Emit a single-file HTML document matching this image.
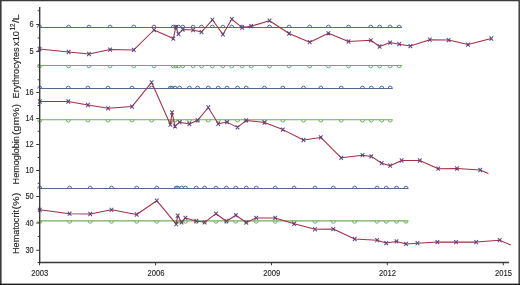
<!DOCTYPE html>
<html><head><meta charset="utf-8"><style>
html,body{margin:0;padding:0;background:#fff;}
body{width:520px;height:285px;overflow:hidden;position:relative;font-family:"Liberation Sans",sans-serif;}
svg{position:absolute;left:0;top:0;display:block;will-change:transform;filter:blur(0.25px);}
</style></head><body>
<svg width="520" height="285" viewBox="0 0 520 285">
<rect width="520" height="285" fill="#fff"/>
<g stroke="#506a95" stroke-width="1.05" fill="none">
<line x1="39.7" y1="27.5" x2="402" y2="27.5" />
<path d="M37.45 27.6A2.05 2.45 0 0 1 41.55 27.6" stroke-width="1.0"/>
<path d="M66.55 27.6A2.05 2.45 0 0 1 70.65 27.6" stroke-width="1.0"/>
<path d="M86.95 27.6A2.05 2.45 0 0 1 91.05 27.6" stroke-width="1.0"/>
<path d="M108.05 27.6A2.05 2.45 0 0 1 112.15 27.6" stroke-width="1.0"/>
<path d="M131.75 27.6A2.05 2.45 0 0 1 135.85 27.6" stroke-width="1.0"/>
<path d="M151.95 27.6A2.05 2.45 0 0 1 156.05 27.6" stroke-width="1.0"/>
<path d="M171.25 27.6A2.05 2.45 0 0 1 175.35 27.6" stroke-width="1.0"/>
<path d="M173.75 27.6A2.05 2.45 0 0 1 177.85 27.6" stroke-width="1.0"/>
<path d="M176.45 27.6A2.05 2.45 0 0 1 180.55 27.6" stroke-width="1.0"/>
<path d="M180.65 27.6A2.05 2.45 0 0 1 184.75 27.6" stroke-width="1.0"/>
<path d="M191.05 27.6A2.05 2.45 0 0 1 195.15 27.6" stroke-width="1.0"/>
<path d="M199.45 27.6A2.05 2.45 0 0 1 203.55 27.6" stroke-width="1.0"/>
<path d="M210.35 27.6A2.05 2.45 0 0 1 214.45 27.6" stroke-width="1.0"/>
<path d="M220.85 27.6A2.05 2.45 0 0 1 224.95 27.6" stroke-width="1.0"/>
<path d="M229.75 27.6A2.05 2.45 0 0 1 233.85 27.6" stroke-width="1.0"/>
<path d="M240.05 27.6A2.05 2.45 0 0 1 244.15 27.6" stroke-width="1.0"/>
<path d="M249.15 27.6A2.05 2.45 0 0 1 253.25 27.6" stroke-width="1.0"/>
<path d="M267.45 27.6A2.05 2.45 0 0 1 271.55 27.6" stroke-width="1.0"/>
<path d="M287.05 27.6A2.05 2.45 0 0 1 291.15 27.6" stroke-width="1.0"/>
<path d="M307.65 27.6A2.05 2.45 0 0 1 311.75 27.6" stroke-width="1.0"/>
<path d="M326.35 27.6A2.05 2.45 0 0 1 330.45 27.6" stroke-width="1.0"/>
<path d="M346.45 27.6A2.05 2.45 0 0 1 350.55 27.6" stroke-width="1.0"/>
<path d="M368.75 27.6A2.05 2.45 0 0 1 372.85 27.6" stroke-width="1.0"/>
<path d="M377.55 27.6A2.05 2.45 0 0 1 381.65 27.6" stroke-width="1.0"/>
<path d="M388.05 27.6A2.05 2.45 0 0 1 392.15 27.6" stroke-width="1.0"/>
<path d="M397.15 27.6A2.05 2.45 0 0 1 401.25 27.6" stroke-width="1.0"/>
<line x1="39.7" y1="88.5" x2="392.5" y2="88.5" />
<path d="M37.75 88.6A2.05 2.45 0 0 1 41.85 88.6" stroke-width="1.0"/>
<path d="M66.25 88.6A2.05 2.45 0 0 1 70.35 88.6" stroke-width="1.0"/>
<path d="M85.85 88.6A2.05 2.45 0 0 1 89.95 88.6" stroke-width="1.0"/>
<path d="M106.05 88.6A2.05 2.45 0 0 1 110.15 88.6" stroke-width="1.0"/>
<path d="M129.95 88.6A2.05 2.45 0 0 1 134.05 88.6" stroke-width="1.0"/>
<path d="M149.55 88.6A2.05 2.45 0 0 1 153.65 88.6" stroke-width="1.0"/>
<path d="M168.35 88.6A2.05 2.45 0 0 1 172.45 88.6" stroke-width="1.0"/>
<path d="M169.95 88.6A2.05 2.45 0 0 1 174.05 88.6" stroke-width="1.0"/>
<path d="M172.95 88.6A2.05 2.45 0 0 1 177.05 88.6" stroke-width="1.0"/>
<path d="M177.55 88.6A2.05 2.45 0 0 1 181.65 88.6" stroke-width="1.0"/>
<path d="M187.35 88.6A2.05 2.45 0 0 1 191.45 88.6" stroke-width="1.0"/>
<path d="M195.55 88.6A2.05 2.45 0 0 1 199.65 88.6" stroke-width="1.0"/>
<path d="M206.25 88.6A2.05 2.45 0 0 1 210.35 88.6" stroke-width="1.0"/>
<path d="M216.15 88.6A2.05 2.45 0 0 1 220.25 88.6" stroke-width="1.0"/>
<path d="M224.95 88.6A2.05 2.45 0 0 1 229.05 88.6" stroke-width="1.0"/>
<path d="M235.45 88.6A2.05 2.45 0 0 1 239.55 88.6" stroke-width="1.0"/>
<path d="M244.15 88.6A2.05 2.45 0 0 1 248.25 88.6" stroke-width="1.0"/>
<path d="M262.45 88.6A2.05 2.45 0 0 1 266.55 88.6" stroke-width="1.0"/>
<path d="M280.75 88.6A2.05 2.45 0 0 1 284.85 88.6" stroke-width="1.0"/>
<path d="M301.45 88.6A2.05 2.45 0 0 1 305.55 88.6" stroke-width="1.0"/>
<path d="M318.75 88.6A2.05 2.45 0 0 1 322.85 88.6" stroke-width="1.0"/>
<path d="M339.15 88.6A2.05 2.45 0 0 1 343.25 88.6" stroke-width="1.0"/>
<path d="M360.45 88.6A2.05 2.45 0 0 1 364.55 88.6" stroke-width="1.0"/>
<path d="M369.25 88.6A2.05 2.45 0 0 1 373.35 88.6" stroke-width="1.0"/>
<path d="M379.65 88.6A2.05 2.45 0 0 1 383.75 88.6" stroke-width="1.0"/>
<path d="M388.15 88.6A2.05 2.45 0 0 1 392.25 88.6" stroke-width="1.0"/>
<line x1="39.7" y1="188.5" x2="408.3" y2="188.5" />
<path d="M37.75 188.6A2.05 2.45 0 0 1 41.85 188.6" stroke-width="1.0"/>
<path d="M67.55 188.6A2.05 2.45 0 0 1 71.65 188.6" stroke-width="1.0"/>
<path d="M88.15 188.6A2.05 2.45 0 0 1 92.25 188.6" stroke-width="1.0"/>
<path d="M109.45 188.6A2.05 2.45 0 0 1 113.55 188.6" stroke-width="1.0"/>
<path d="M134.65 188.6A2.05 2.45 0 0 1 138.75 188.6" stroke-width="1.0"/>
<path d="M154.75 188.6A2.05 2.45 0 0 1 158.85 188.6" stroke-width="1.0"/>
<path d="M174.15 188.6A2.05 2.45 0 0 1 178.25 188.6" stroke-width="1.0"/>
<path d="M175.65 188.6A2.05 2.45 0 0 1 179.75 188.6" stroke-width="1.0"/>
<path d="M179.45 188.6A2.05 2.45 0 0 1 183.55 188.6" stroke-width="1.0"/>
<path d="M183.35 188.6A2.05 2.45 0 0 1 187.45 188.6" stroke-width="1.0"/>
<path d="M194.25 188.6A2.05 2.45 0 0 1 198.35 188.6" stroke-width="1.0"/>
<path d="M202.55 188.6A2.05 2.45 0 0 1 206.65 188.6" stroke-width="1.0"/>
<path d="M213.95 188.6A2.05 2.45 0 0 1 218.05 188.6" stroke-width="1.0"/>
<path d="M224.35 188.6A2.05 2.45 0 0 1 228.45 188.6" stroke-width="1.0"/>
<path d="M233.75 188.6A2.05 2.45 0 0 1 237.85 188.6" stroke-width="1.0"/>
<path d="M244.25 188.6A2.05 2.45 0 0 1 248.35 188.6" stroke-width="1.0"/>
<path d="M254.15 188.6A2.05 2.45 0 0 1 258.25 188.6" stroke-width="1.0"/>
<path d="M273.15 188.6A2.05 2.45 0 0 1 277.25 188.6" stroke-width="1.0"/>
<path d="M292.05 188.6A2.05 2.45 0 0 1 296.15 188.6" stroke-width="1.0"/>
<path d="M312.95 188.6A2.05 2.45 0 0 1 317.05 188.6" stroke-width="1.0"/>
<path d="M331.25 188.6A2.05 2.45 0 0 1 335.35 188.6" stroke-width="1.0"/>
<path d="M352.65 188.6A2.05 2.45 0 0 1 356.75 188.6" stroke-width="1.0"/>
<path d="M375.05 188.6A2.05 2.45 0 0 1 379.15 188.6" stroke-width="1.0"/>
<path d="M384.15 188.6A2.05 2.45 0 0 1 388.25 188.6" stroke-width="1.0"/>
<path d="M394.45 188.6A2.05 2.45 0 0 1 398.55 188.6" stroke-width="1.0"/>
<path d="M403.95 188.6A2.05 2.45 0 0 1 408.05 188.6" stroke-width="1.0"/>
</g>
<g stroke="#72ae58" stroke-width="1.15" fill="none">
<line x1="39.7" y1="65.5" x2="402" y2="65.5" />
<path d="M37.45 65.4A2.05 2.45 0 0 0 41.55 65.4" stroke-width="1.0"/>
<path d="M66.55 65.4A2.05 2.45 0 0 0 70.65 65.4" stroke-width="1.0"/>
<path d="M86.95 65.4A2.05 2.45 0 0 0 91.05 65.4" stroke-width="1.0"/>
<path d="M108.05 65.4A2.05 2.45 0 0 0 112.15 65.4" stroke-width="1.0"/>
<path d="M131.75 65.4A2.05 2.45 0 0 0 135.85 65.4" stroke-width="1.0"/>
<path d="M151.95 65.4A2.05 2.45 0 0 0 156.05 65.4" stroke-width="1.0"/>
<path d="M171.25 65.4A2.05 2.45 0 0 0 175.35 65.4" stroke-width="1.0"/>
<path d="M173.75 65.4A2.05 2.45 0 0 0 177.85 65.4" stroke-width="1.0"/>
<path d="M176.45 65.4A2.05 2.45 0 0 0 180.55 65.4" stroke-width="1.0"/>
<path d="M180.65 65.4A2.05 2.45 0 0 0 184.75 65.4" stroke-width="1.0"/>
<path d="M191.05 65.4A2.05 2.45 0 0 0 195.15 65.4" stroke-width="1.0"/>
<path d="M199.45 65.4A2.05 2.45 0 0 0 203.55 65.4" stroke-width="1.0"/>
<path d="M210.35 65.4A2.05 2.45 0 0 0 214.45 65.4" stroke-width="1.0"/>
<path d="M220.85 65.4A2.05 2.45 0 0 0 224.95 65.4" stroke-width="1.0"/>
<path d="M229.75 65.4A2.05 2.45 0 0 0 233.85 65.4" stroke-width="1.0"/>
<path d="M240.05 65.4A2.05 2.45 0 0 0 244.15 65.4" stroke-width="1.0"/>
<path d="M249.15 65.4A2.05 2.45 0 0 0 253.25 65.4" stroke-width="1.0"/>
<path d="M267.45 65.4A2.05 2.45 0 0 0 271.55 65.4" stroke-width="1.0"/>
<path d="M287.05 65.4A2.05 2.45 0 0 0 291.15 65.4" stroke-width="1.0"/>
<path d="M307.65 65.4A2.05 2.45 0 0 0 311.75 65.4" stroke-width="1.0"/>
<path d="M326.35 65.4A2.05 2.45 0 0 0 330.45 65.4" stroke-width="1.0"/>
<path d="M346.45 65.4A2.05 2.45 0 0 0 350.55 65.4" stroke-width="1.0"/>
<path d="M368.75 65.4A2.05 2.45 0 0 0 372.85 65.4" stroke-width="1.0"/>
<path d="M377.55 65.4A2.05 2.45 0 0 0 381.65 65.4" stroke-width="1.0"/>
<path d="M388.05 65.4A2.05 2.45 0 0 0 392.15 65.4" stroke-width="1.0"/>
<path d="M397.15 65.4A2.05 2.45 0 0 0 401.25 65.4" stroke-width="1.0"/>
<line x1="39.7" y1="119.7" x2="392.5" y2="119.7" />
<path d="M37.75 119.6A2.05 2.45 0 0 0 41.85 119.6" stroke-width="1.0"/>
<path d="M66.25 119.6A2.05 2.45 0 0 0 70.35 119.6" stroke-width="1.0"/>
<path d="M85.85 119.6A2.05 2.45 0 0 0 89.95 119.6" stroke-width="1.0"/>
<path d="M106.05 119.6A2.05 2.45 0 0 0 110.15 119.6" stroke-width="1.0"/>
<path d="M129.95 119.6A2.05 2.45 0 0 0 134.05 119.6" stroke-width="1.0"/>
<path d="M149.55 119.6A2.05 2.45 0 0 0 153.65 119.6" stroke-width="1.0"/>
<path d="M168.35 119.6A2.05 2.45 0 0 0 172.45 119.6" stroke-width="1.0"/>
<path d="M169.95 119.6A2.05 2.45 0 0 0 174.05 119.6" stroke-width="1.0"/>
<path d="M172.95 119.6A2.05 2.45 0 0 0 177.05 119.6" stroke-width="1.0"/>
<path d="M177.55 119.6A2.05 2.45 0 0 0 181.65 119.6" stroke-width="1.0"/>
<path d="M187.35 119.6A2.05 2.45 0 0 0 191.45 119.6" stroke-width="1.0"/>
<path d="M195.55 119.6A2.05 2.45 0 0 0 199.65 119.6" stroke-width="1.0"/>
<path d="M206.25 119.6A2.05 2.45 0 0 0 210.35 119.6" stroke-width="1.0"/>
<path d="M216.15 119.6A2.05 2.45 0 0 0 220.25 119.6" stroke-width="1.0"/>
<path d="M224.95 119.6A2.05 2.45 0 0 0 229.05 119.6" stroke-width="1.0"/>
<path d="M235.45 119.6A2.05 2.45 0 0 0 239.55 119.6" stroke-width="1.0"/>
<path d="M244.15 119.6A2.05 2.45 0 0 0 248.25 119.6" stroke-width="1.0"/>
<path d="M262.45 119.6A2.05 2.45 0 0 0 266.55 119.6" stroke-width="1.0"/>
<path d="M280.75 119.6A2.05 2.45 0 0 0 284.85 119.6" stroke-width="1.0"/>
<path d="M301.45 119.6A2.05 2.45 0 0 0 305.55 119.6" stroke-width="1.0"/>
<path d="M318.75 119.6A2.05 2.45 0 0 0 322.85 119.6" stroke-width="1.0"/>
<path d="M339.15 119.6A2.05 2.45 0 0 0 343.25 119.6" stroke-width="1.0"/>
<path d="M360.45 119.6A2.05 2.45 0 0 0 364.55 119.6" stroke-width="1.0"/>
<path d="M369.25 119.6A2.05 2.45 0 0 0 373.35 119.6" stroke-width="1.0"/>
<path d="M379.65 119.6A2.05 2.45 0 0 0 383.75 119.6" stroke-width="1.0"/>
<path d="M388.15 119.6A2.05 2.45 0 0 0 392.25 119.6" stroke-width="1.0"/>
<line x1="39.7" y1="220.9" x2="408.3" y2="220.9" />
<path d="M37.75 220.8A2.05 2.45 0 0 0 41.85 220.8" stroke-width="1.0"/>
<path d="M67.55 220.8A2.05 2.45 0 0 0 71.65 220.8" stroke-width="1.0"/>
<path d="M88.15 220.8A2.05 2.45 0 0 0 92.25 220.8" stroke-width="1.0"/>
<path d="M109.45 220.8A2.05 2.45 0 0 0 113.55 220.8" stroke-width="1.0"/>
<path d="M134.65 220.8A2.05 2.45 0 0 0 138.75 220.8" stroke-width="1.0"/>
<path d="M154.75 220.8A2.05 2.45 0 0 0 158.85 220.8" stroke-width="1.0"/>
<path d="M174.15 220.8A2.05 2.45 0 0 0 178.25 220.8" stroke-width="1.0"/>
<path d="M175.65 220.8A2.05 2.45 0 0 0 179.75 220.8" stroke-width="1.0"/>
<path d="M179.45 220.8A2.05 2.45 0 0 0 183.55 220.8" stroke-width="1.0"/>
<path d="M183.35 220.8A2.05 2.45 0 0 0 187.45 220.8" stroke-width="1.0"/>
<path d="M194.25 220.8A2.05 2.45 0 0 0 198.35 220.8" stroke-width="1.0"/>
<path d="M202.55 220.8A2.05 2.45 0 0 0 206.65 220.8" stroke-width="1.0"/>
<path d="M213.95 220.8A2.05 2.45 0 0 0 218.05 220.8" stroke-width="1.0"/>
<path d="M224.35 220.8A2.05 2.45 0 0 0 228.45 220.8" stroke-width="1.0"/>
<path d="M233.75 220.8A2.05 2.45 0 0 0 237.85 220.8" stroke-width="1.0"/>
<path d="M244.25 220.8A2.05 2.45 0 0 0 248.35 220.8" stroke-width="1.0"/>
<path d="M254.15 220.8A2.05 2.45 0 0 0 258.25 220.8" stroke-width="1.0"/>
<path d="M273.15 220.8A2.05 2.45 0 0 0 277.25 220.8" stroke-width="1.0"/>
<path d="M292.05 220.8A2.05 2.45 0 0 0 296.15 220.8" stroke-width="1.0"/>
<path d="M312.95 220.8A2.05 2.45 0 0 0 317.05 220.8" stroke-width="1.0"/>
<path d="M331.25 220.8A2.05 2.45 0 0 0 335.35 220.8" stroke-width="1.0"/>
<path d="M352.65 220.8A2.05 2.45 0 0 0 356.75 220.8" stroke-width="1.0"/>
<path d="M375.05 220.8A2.05 2.45 0 0 0 379.15 220.8" stroke-width="1.0"/>
<path d="M384.15 220.8A2.05 2.45 0 0 0 388.25 220.8" stroke-width="1.0"/>
<path d="M394.45 220.8A2.05 2.45 0 0 0 398.55 220.8" stroke-width="1.0"/>
<path d="M403.95 220.8A2.05 2.45 0 0 0 408.05 220.8" stroke-width="1.0"/>
</g>
<g stroke="#a52d46" stroke-width="1.05" fill="none" stroke-linejoin="round">
<polyline points="39.5,49 68.6,52 89,54 110.1,49.6 133.8,49.9 154,30 173.3,38.6 175.8,27.2 178.5,34 182.7,29.5 193.1,30 201.5,32 212.4,19.8 222.9,34.4 231.8,19.1 242.1,27.6 251.2,26.2 269.5,20.7 289.1,33.5 309.7,42.2 328.4,33.3 348.5,41.5 370.8,40.3 379.6,46.5 390.1,42.6 399.2,44.2 410.4,46.1 429.8,39.7 448.6,40.1 468,44.6 491.3,38.5"/>
<polyline points="39.8,101.5 68.3,101.5 87.9,105 108.1,108.3 132,106.6 151.6,82.3 170.4,124.7 172,112.4 175,126.4 179.6,122.2 189.4,124 197.6,120.3 208.3,107.5 218.2,123.8 227,122.1 237.5,127.4 246.2,120.4 264.5,122.5 282.8,129.6 303.5,140 320.8,137.4 341.2,157.8 362.5,155.2 371.3,156.4 381.7,163.2 390.2,165.7 401.6,160.5 419.8,160.5 438.2,168.7 457,168.5 480.2,170 488.4,173.4"/>
<polyline points="39.8,209.8 69.6,213.7 90.2,214 111.5,209.8 136.7,214.5 156.8,200.7 176.2,224.2 177.7,215.6 181.5,222.3 185.4,217.9 196.3,221 204.6,222.3 216,213.7 226.4,221.2 235.8,215.2 246.3,222.5 256.2,217.9 275.2,217.9 294.1,223.8 315,229.3 333.3,229.1 354.7,239 377.1,240.2 386.2,243.1 396.5,241.4 406,243.9 417.5,243.2 437.4,242.1 456.1,242.1 476.2,242.1 499.7,240.2 510.8,245.1"/>
</g>
<path d="M37.7 46.95L41.3 51.05M37.7 51.05L41.3 46.95M66.8 49.95L70.4 54.05M66.8 54.05L70.4 49.95M87.2 51.95L90.8 56.05M87.2 56.05L90.8 51.95M108.3 47.55L111.9 51.65M108.3 51.65L111.9 47.55M132 47.85L135.6 51.95M132 51.95L135.6 47.85M152.2 27.95L155.8 32.05M152.2 32.05L155.8 27.95M171.5 36.55L175.1 40.65M171.5 40.65L175.1 36.55M174 25.15L177.6 29.25M174 29.25L177.6 25.15M176.7 31.95L180.3 36.05M176.7 36.05L180.3 31.95M180.9 27.45L184.5 31.55M180.9 31.55L184.5 27.45M191.3 27.95L194.9 32.05M191.3 32.05L194.9 27.95M199.7 29.95L203.3 34.05M199.7 34.05L203.3 29.95M210.6 17.75L214.2 21.85M210.6 21.85L214.2 17.75M221.1 32.35L224.7 36.45M221.1 36.45L224.7 32.35M230 17.05L233.6 21.15M230 21.15L233.6 17.05M240.3 25.55L243.9 29.65M240.3 29.65L243.9 25.55M249.4 24.15L253 28.25M249.4 28.25L253 24.15M267.7 18.65L271.3 22.75M267.7 22.75L271.3 18.65M287.3 31.45L290.9 35.55M287.3 35.55L290.9 31.45M307.9 40.15L311.5 44.25M307.9 44.25L311.5 40.15M326.6 31.25L330.2 35.35M326.6 35.35L330.2 31.25M346.7 39.45L350.3 43.55M346.7 43.55L350.3 39.45M369 38.25L372.6 42.35M369 42.35L372.6 38.25M377.8 44.45L381.4 48.55M377.8 48.55L381.4 44.45M388.3 40.55L391.9 44.65M388.3 44.65L391.9 40.55M397.4 42.15L401 46.25M397.4 46.25L401 42.15M408.6 44.05L412.2 48.15M408.6 48.15L412.2 44.05M428 37.65L431.6 41.75M428 41.75L431.6 37.65M446.8 38.05L450.4 42.15M446.8 42.15L450.4 38.05M466.2 42.55L469.8 46.65M466.2 46.65L469.8 42.55M489.5 36.45L493.1 40.55M489.5 40.55L493.1 36.45M38 99.45L41.6 103.55M38 103.55L41.6 99.45M66.5 99.45L70.1 103.55M66.5 103.55L70.1 99.45M86.1 102.95L89.7 107.05M86.1 107.05L89.7 102.95M106.3 106.25L109.9 110.35M106.3 110.35L109.9 106.25M130.2 104.55L133.8 108.65M130.2 108.65L133.8 104.55M149.8 80.25L153.4 84.35M149.8 84.35L153.4 80.25M168.6 122.65L172.2 126.75M168.6 126.75L172.2 122.65M170.2 110.35L173.8 114.45M170.2 114.45L173.8 110.35M173.2 124.35L176.8 128.45M173.2 128.45L176.8 124.35M177.8 120.15L181.4 124.25M177.8 124.25L181.4 120.15M187.6 121.95L191.2 126.05M187.6 126.05L191.2 121.95M195.8 118.25L199.4 122.35M195.8 122.35L199.4 118.25M206.5 105.45L210.1 109.55M206.5 109.55L210.1 105.45M216.4 121.75L220 125.85M216.4 125.85L220 121.75M225.2 120.05L228.8 124.15M225.2 124.15L228.8 120.05M235.7 125.35L239.3 129.45M235.7 129.45L239.3 125.35M244.4 118.35L248 122.45M244.4 122.45L248 118.35M262.7 120.45L266.3 124.55M262.7 124.55L266.3 120.45M281 127.55L284.6 131.65M281 131.65L284.6 127.55M301.7 137.95L305.3 142.05M301.7 142.05L305.3 137.95M319 135.35L322.6 139.45M319 139.45L322.6 135.35M339.4 155.75L343 159.85M339.4 159.85L343 155.75M360.7 153.15L364.3 157.25M360.7 157.25L364.3 153.15M369.5 154.35L373.1 158.45M369.5 158.45L373.1 154.35M379.9 161.15L383.5 165.25M379.9 165.25L383.5 161.15M388.4 163.65L392 167.75M388.4 167.75L392 163.65M399.8 158.45L403.4 162.55M399.8 162.55L403.4 158.45M418 158.45L421.6 162.55M418 162.55L421.6 158.45M436.4 166.65L440 170.75M436.4 170.75L440 166.65M455.2 166.45L458.8 170.55M455.2 170.55L458.8 166.45M478.4 167.95L482 172.05M478.4 172.05L482 167.95M38 207.75L41.6 211.85M38 211.85L41.6 207.75M67.8 211.65L71.4 215.75M67.8 215.75L71.4 211.65M88.4 211.95L92 216.05M88.4 216.05L92 211.95M109.7 207.75L113.3 211.85M109.7 211.85L113.3 207.75M134.9 212.45L138.5 216.55M134.9 216.55L138.5 212.45M155 198.65L158.6 202.75M155 202.75L158.6 198.65M174.4 222.15L178 226.25M174.4 226.25L178 222.15M175.9 213.55L179.5 217.65M175.9 217.65L179.5 213.55M179.7 220.25L183.3 224.35M179.7 224.35L183.3 220.25M183.6 215.85L187.2 219.95M183.6 219.95L187.2 215.85M194.5 218.95L198.1 223.05M194.5 223.05L198.1 218.95M202.8 220.25L206.4 224.35M202.8 224.35L206.4 220.25M214.2 211.65L217.8 215.75M214.2 215.75L217.8 211.65M224.6 219.15L228.2 223.25M224.6 223.25L228.2 219.15M234 213.15L237.6 217.25M234 217.25L237.6 213.15M244.5 220.45L248.1 224.55M244.5 224.55L248.1 220.45M254.4 215.85L258 219.95M254.4 219.95L258 215.85M273.4 215.85L277 219.95M273.4 219.95L277 215.85M292.3 221.75L295.9 225.85M292.3 225.85L295.9 221.75M313.2 227.25L316.8 231.35M313.2 231.35L316.8 227.25M331.5 227.05L335.1 231.15M331.5 231.15L335.1 227.05M352.9 236.95L356.5 241.05M352.9 241.05L356.5 236.95M375.3 238.15L378.9 242.25M375.3 242.25L378.9 238.15M384.4 241.05L388 245.15M384.4 245.15L388 241.05M394.7 239.35L398.3 243.45M394.7 243.45L398.3 239.35M404.2 241.85L407.8 245.95M404.2 245.95L407.8 241.85M415.7 241.15L419.3 245.25M415.7 245.25L419.3 241.15M435.6 240.05L439.2 244.15M435.6 244.15L439.2 240.05M454.3 240.05L457.9 244.15M454.3 244.15L457.9 240.05M474.4 240.05L478 244.15M474.4 244.15L478 240.05M497.9 238.15L501.5 242.25M497.9 242.25L501.5 238.15" stroke="#573f7b" stroke-width="1.05" stroke-opacity="0.95" fill="none"/>
<g stroke="#3a3a3a" stroke-width="1.4" fill="none">
<line x1="39.7" y1="6.9" x2="39.7" y2="263.15"/>
<line x1="39.05" y1="262.5" x2="509" y2="262.5"/>
</g>
<path d="M36.2 24.5H39.7M36.2 51.5H39.7M36.2 92.5H39.7M36.2 118.4H39.7M36.2 144.4H39.7M36.2 170.5H39.7M36.2 196.5H39.7M36.2 223H39.7M36.2 250.3H39.7M37.7 10.8H39.7M37.7 38H39.7M37.7 65H39.7M37.7 79.8H39.7M37.7 105.5H39.7M37.7 131.3H39.7M37.7 157.4H39.7M37.7 183.3H39.7M37.7 209.8H39.7M37.7 236.5H39.7M37.7 262.5H39.7" stroke="#3a3a3a" stroke-width="1.05" fill="none"/>
<path d="M39.5 262.5V265.3M155.6 262.5V265.3M271.5 262.5V265.3M387.3 262.5V265.3M503.3 262.5V265.3" stroke="#3a3a3a" stroke-width="1" fill="none"/>
<g font-family="Liberation Sans, sans-serif" font-size="8.2" fill="#1c1c1c" stroke="#1c1c1c" stroke-width="0.12" text-anchor="end">
<text x="33.6" y="27.4" font-size="8.6" textLength="4.1" lengthAdjust="spacingAndGlyphs">6</text>
<text x="33.6" y="54.4" font-size="8.6" textLength="4.1" lengthAdjust="spacingAndGlyphs">5</text>
<text x="33.6" y="95.4" font-size="8.6" textLength="8.2" lengthAdjust="spacingAndGlyphs">16</text>
<text x="33.6" y="121.4" font-size="8.6" textLength="8.2" lengthAdjust="spacingAndGlyphs">14</text>
<text x="33.6" y="147.4" font-size="8.6" textLength="8.2" lengthAdjust="spacingAndGlyphs">12</text>
<text x="33.6" y="173.4" font-size="8.6" textLength="8.2" lengthAdjust="spacingAndGlyphs">10</text>
<text x="33.6" y="199.4" font-size="8.6" textLength="8.2" lengthAdjust="spacingAndGlyphs">50</text>
<text x="33.6" y="225.9" font-size="8.6" textLength="8.2" lengthAdjust="spacingAndGlyphs">40</text>
<text x="33.6" y="253.2" font-size="8.6" textLength="8.2" lengthAdjust="spacingAndGlyphs">30</text>
</g>
<g font-family="Liberation Sans, sans-serif" font-size="8.2" fill="#1c1c1c" stroke="#1c1c1c" stroke-width="0.12" text-anchor="middle">
<text x="39.8" y="275.9" font-size="8.6" textLength="17.0" lengthAdjust="spacingAndGlyphs">2003</text>
<text x="155.9" y="275.9" font-size="8.6" textLength="17.0" lengthAdjust="spacingAndGlyphs">2006</text>
<text x="271.8" y="275.9" font-size="8.6" textLength="17.0" lengthAdjust="spacingAndGlyphs">2009</text>
<text x="387.6" y="275.9" font-size="8.6" textLength="17.0" lengthAdjust="spacingAndGlyphs">2012</text>
<text x="503.6" y="275.9" font-size="8.6" textLength="17.0" lengthAdjust="spacingAndGlyphs">2015</text>
</g>
<g font-family="Liberation Sans, sans-serif" font-size="9.2" fill="#1c1c1c" stroke="#1c1c1c" stroke-width="0.12">
<text transform="translate(18.5 98.4) rotate(-90)" textLength="51.0" lengthAdjust="spacingAndGlyphs">Erythrocytes</text>
<text transform="translate(18.5 45.9) rotate(-90)" textLength="14.9" lengthAdjust="spacingAndGlyphs">x10</text>
<text transform="translate(14.5 30.5) rotate(-90)" font-size="6.6" textLength="7.0" lengthAdjust="spacingAndGlyphs">12</text>
<text transform="translate(18.5 23.1) rotate(-90)" textLength="8.7" lengthAdjust="spacingAndGlyphs">/L</text>
<text transform="translate(18.5 184.4) rotate(-90)" textLength="48.3" lengthAdjust="spacingAndGlyphs">Hemoglobin</text>
<text transform="translate(18.5 134.9) rotate(-90)" textLength="30.9" lengthAdjust="spacingAndGlyphs">(gm%)</text>
<text transform="translate(18.5 254) rotate(-90)" textLength="44.0" lengthAdjust="spacingAndGlyphs">Hematocrit</text>
<text transform="translate(18.5 209.5) rotate(-90)" textLength="16.9" lengthAdjust="spacingAndGlyphs">(%)</text>
</g>
<rect x="0" y="0" width="520" height="1.25" fill="#3a3a3a"/>
<rect x="0" y="0" width="1.6" height="285" fill="#3c3c3c"/>
<rect x="518.45" y="0" width="1.55" height="285" fill="#464646"/>
<rect x="0" y="283.7" width="520" height="1.3" fill="#1c1c1c" stroke="#1c1c1c" stroke-width="0.12"/>
</svg>
</body></html>
